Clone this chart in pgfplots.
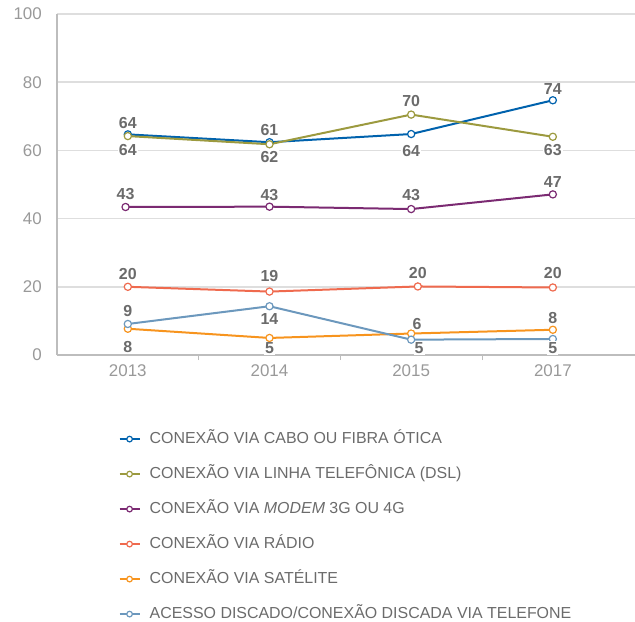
\documentclass[border=0pt]{standalone}
\usepackage{fontspec}
\setmainfont{Liberation Sans}
\usepackage{pgfplots}
\usepackage{pgfplotstable}
\pgfplotsset{compat=1.18}

\definecolor{cblue}{HTML}{0062AD}
\definecolor{colive}{HTML}{9C9A3F}
\definecolor{cpurple}{HTML}{7B2A72}
\definecolor{cred}{HTML}{EF6A4E}
\definecolor{corange}{HTML}{F7941E}
\definecolor{csteel}{HTML}{6C98BD}
\definecolor{gridgray}{HTML}{DEDEDE}
\definecolor{axisgray}{HTML}{BDBDBD}
\definecolor{tickgray}{HTML}{999999}
\definecolor{labgray}{HTML}{6B6B6B}

% x y lbl dx dy  (dx, dy: label offset in bp)
\pgfplotstableread{
x y lbl dx dy
0 64.7 64 0 11
1 62.4 61 0 12
2 64.8 64 0 -17
3 74.7 74 0 11
}\tblA
\pgfplotstableread{
x y lbl dx dy
0 64.2 64 0 -14
1 61.8 62 0 -12.5
2 70.5 70 0 14
3 64.0 63 0 -13.5
}\tblB
\pgfplotstableread{
x y lbl dx dy
-0.016 43.4 43 0 12.5
1 43.5 43 0 12
2 42.8 43 0 14
3 47.1 47 0 12.5
}\tblC
\pgfplotstableread{
x y lbl dx dy
0 20.0 20 0 12.5
1 18.6 19 0 15.5
2.047 20.1 20 0 13
3 19.8 20 0 14
}\tblD
\pgfplotstableread{
x y lbl dx dy
0 7.7 8 0 -18
1 5.0 5 0 -10.5
2 6.3 6 6 10
3 7.4 8 0 11.5
}\tblE
\pgfplotstableread{
x y lbl dx dy
0 9.1 9 0 13
1 14.3 14 0 -12.5
2 4.5 5 8 -8.5
3 4.7 5 0 -9
}\tblF

\begin{document}
\begin{tikzpicture}
\begin{axis}[
  at={(0,0)}, anchor=south west,
  scale only axis, width=578bp, height=341bp,
  xmin=-0.5, xmax=3.58, ymin=0, ymax=100,
  xtick={0,1,2,3}, xticklabels={2013,2014,2015,2017},
  minor xtick={0.5,1.5,2.5},
  ytick={0,20,40,60,80,100},
  axis x line*=bottom, axis y line*=left,
  axis line style={draw=axisgray, line width=1.5bp, -},
  tick align=outside,
  major tick length=0pt, minor tick length=5bp,
  tick style={draw=axisgray, line width=1bp},
  ymajorgrids, grid style={draw=gridgray, line width=1.5bp},
  /pgf/number format/assume math mode=true,
  ticklabel style={font=\fontsize{17}{17}\selectfont, text=tickgray, inner sep=0pt},
  yticklabel style={anchor=east, xshift=-15bp},
  xticklabel style={anchor=north, yshift=-9bp},
  clip=false,
  point meta=explicit symbolic,
  visualization depends on={\thisrow{dx}\as\ldx},
  visualization depends on={\thisrow{dy}\as\ldy},
  nodes near coords,
  nodes near coords style={anchor=center, xshift=\ldx*1bp, yshift=\ldy*1bp,
     font=\bfseries\fontsize{16}{16}\selectfont, text=labgray, fill=white, inner sep=1bp},
  every axis plot/.append style={line width=2bp, mark=*, mark size=3.6bp},
  legend style={at={(0.106,-0.224)}, anchor=north west, draw=none, fill=none,
     font=\fontsize{16}{16}\selectfont, text=labgray, inner sep=0pt,
     row sep=20bp, column sep=9bp,
     nodes={inner sep=0pt, text height=12bp, text depth=3bp}},
  legend cell align=left,
  legend image code/.code={\draw[mark repeat=2, mark phase=2, #1, mark size=2.8bp, line width=2.2bp] plot coordinates {(0bp,0bp) (10bp,0bp) (20bp,0bp)};},
]
\addplot[cblue, mark options={fill=white, draw=cblue, line width=1.2bp}] table[x=x, y=y, meta=lbl] {\tblA};
\addlegendentry{CONEXÃO VIA CABO OU FIBRA ÓTICA}
\addplot[colive, mark options={fill=white, draw=colive, line width=1.2bp}] table[x=x, y=y, meta=lbl] {\tblB};
\addlegendentry{CONEXÃO VIA LINHA TELEFÔNICA (DSL)}
\addplot[cpurple, mark options={fill=white, draw=cpurple, line width=1.2bp}] table[x=x, y=y, meta=lbl] {\tblC};
\addlegendentry{CONEXÃO VIA \textit{MODEM} 3G OU 4G}
\addplot[cred, mark options={fill=white, draw=cred, line width=1.2bp}] table[x=x, y=y, meta=lbl] {\tblD};
\addlegendentry{CONEXÃO VIA RÁDIO}
\addplot[corange, mark options={fill=white, draw=corange, line width=1.2bp}] table[x=x, y=y, meta=lbl] {\tblE};
\addlegendentry{CONEXÃO VIA SATÉLITE}
\addplot[csteel, mark options={fill=white, draw=csteel, line width=1.2bp}] table[x=x, y=y, meta=lbl] {\tblF};
\addlegendentry{ACESSO DISCADO/CONEXÃO DISCADA VIA TELEFONE}
\end{axis}
\pgfresetboundingbox
\path (-57bp,-267bp) rectangle (578bp,355bp);
\end{tikzpicture}
\end{document}
